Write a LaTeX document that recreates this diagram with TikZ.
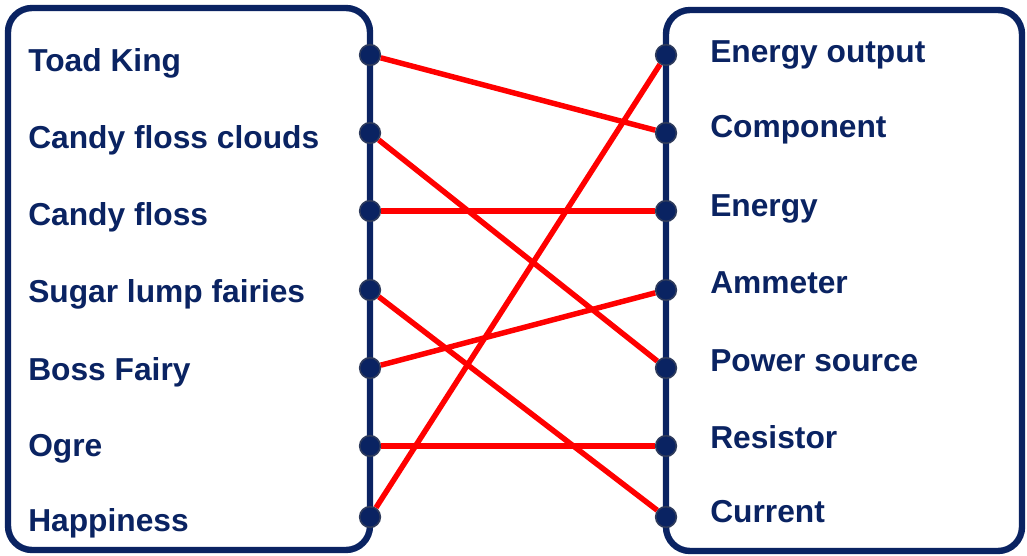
\documentclass[tikz,border=0pt]{standalone}
\usepackage{fontspec}
\setmainfont{Liberation Sans}
\usetikzlibrary{positioning}
\definecolor{navy}{HTML}{0A2362}
\definecolor{dotrim}{HTML}{2E3B5C}
\definecolor{linkred}{HTML}{FF0000}
\tikzset{
  panel/.style={draw=navy, line width=4.8pt, rounded corners=18pt, fill=white},
  pin/.style={circle, fill=navy, draw=dotrim, line width=1.2pt, minimum size=15.5pt, inner sep=0pt},
  term/.style={anchor=base west, inner sep=0pt, text=navy, font=\fontsize{23.8}{28}\selectfont\bfseries},
  link/.style={draw=linkred, line width=4.1pt}
}

\begin{document}
\begin{tikzpicture}[x=0.75pt, y=-0.75pt]
  \useasboundingbox (0,0) rectangle (1027,556);
  \draw[panel] (8,8) rectangle (370,550);
  \draw[panel] (666,10) rectangle (1022,551);

  % left column
  \node[term] (toad)   at (28,72)  {Toad King};
  \node[term] (clouds) at (28,148) {Candy floss clouds};
  \node[term] (floss)  at (28,225) {Candy floss};
  \node[term] (sugar)  at (28,302) {Sugar lump fairies};
  \node[term] (boss)   at (28,380) {Boss Fairy};
  \node[term] (ogre)   at (28,456) {Ogre};
  \node[term] (happy)  at (28,531) {Happiness};

  % right column
  \node[term] (output)    at (710,63)  {Energy output};
  \node[term] (component) at (710,138) {Component};
  \node[term] (energy)    at (710,216) {Energy};
  \node[term] (ammeter)   at (710,293) {Ammeter};
  \node[term] (power)     at (710,371) {Power source};
  \node[term] (resistor)  at (710,448) {Resistor};
  \node[term] (current)   at (710,522) {Current};

  % pins on the box edges
  \foreach \i/\y in {1/55, 2/133, 3/211, 4/290, 5/368, 6/446, 7/517} {
    \node[pin] (l\i) at (370,\y) {};
    \node[pin] (r\i) at (666,\y) {};
  }

  % matches
  \draw[link] (l1) -- (r2);
  \draw[link] (l2) -- (r5);
  \draw[link] (l3) -- (r3);
  \draw[link] (l4) -- (r7);
  \draw[link] (l5) -- (r4);
  \draw[link] (l6) -- (r6);
  \draw[link] (l7) -- (r1);
\end{tikzpicture}
\end{document}
